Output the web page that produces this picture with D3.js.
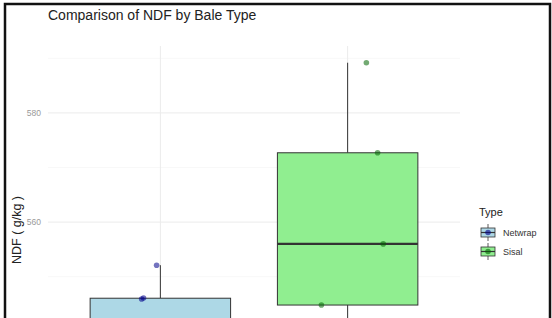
<!DOCTYPE html>
<html>
<head>
<meta charset="utf-8">
<script src="https://cdn.jsdelivr.net/npm/d3@7"></script>
<style>
  body { margin: 0; background: #fff; }
  svg { display: block; font-family: "Liberation Sans", Arial, sans-serif; }
</style>
</head>
<body>
<div id="chart"></div>
<script>
//Datos
const types = ['Netwrap', 'Sisal'];
const netwrapValues = [552.1, 546.1, 545.9, 537.0, 533.5, 527.9];
const sisalValues = [589.2, 572.7, 556.0, 544.8, 533.5];
//desplazamiento horizontal (jitter) de cada punto, en unidades de categoria
const netwrapJitter = [-0.02, -0.09, -0.10, 0.05, -0.12, 0.08];
const sisalJitter = [0.10, 0.16, 0.19, -0.14, 0.04];
const majorTicks = [560, 580];
const minorTicks = [550, 570, 590];

//Colores
const COLOR_FILL = { Netwrap: '#ADD8E6', Sisal: '#90EE90' };
const COLOR_POINT = { Netwrap: '#00008B', Sisal: '#006400' };

const width = 552, height = 318;
const margin = { top: 46, left: 48, right: 92, bottom: 414 };

const svg = d3.select('#chart').append('svg')
    .attr('width', width)
    .attr('height', height);

const groups = [
    { type: 'Netwrap', values: netwrapValues, jitter: netwrapJitter },
    { type: 'Sisal', values: sisalValues, jitter: sisalJitter }
];

//Eje X
let x = d3.scaleBand()
    .domain(types)
    .range([margin.left, width - margin.right])
    .paddingInner(0)
    .paddingOuter(0.1);

//Eje Y (expansion del 5% como ggplot)
let allValues = netwrapValues.concat(sisalValues);
let ext = d3.extent(allValues);
let pad = (ext[1] - ext[0]) * 0.05;
let y = d3.scaleLinear()
    .domain([ext[0] - pad, ext[1] + pad])
    .range([margin.bottom, margin.top]);

const x0 = margin.left, x1 = width - margin.right;

//Rejilla
svg.append('g').selectAll('line')
    .data(minorTicks)
    .enter().append('line')
    .attr('x1', x0).attr('x2', x1)
    .attr('y1', d => y(d)).attr('y2', d => y(d))
    .attr('stroke', '#f3f3f3').attr('stroke-width', 0.6);

svg.append('g').selectAll('line')
    .data(majorTicks)
    .enter().append('line')
    .attr('x1', x0).attr('x2', x1)
    .attr('y1', d => y(d)).attr('y2', d => y(d))
    .attr('stroke', '#ebebeb').attr('stroke-width', 1);

svg.append('g').selectAll('line')
    .data(types)
    .enter().append('line')
    .attr('x1', d => x(d) + x.bandwidth() / 2).attr('x2', d => x(d) + x.bandwidth() / 2)
    .attr('y1', margin.top).attr('y2', margin.bottom)
    .attr('stroke', '#ebebeb').attr('stroke-width', 1);

//Etiquetas eje Y
let yAxis = d3.axisLeft(y).tickValues(majorTicks).tickSize(0).tickPadding(7);
let gy = svg.append('g')
    .attr('transform', 'translate(' + x0 + ',0)')
    .call(yAxis);
gy.select('.domain').remove();
gy.selectAll('text')
    .attr('fill', '#9a9a9a')
    .style('font-size', '8.5px')
    .style('font-family', '"Liberation Sans", Arial, sans-serif');

//Boxplots
groups.forEach(function(g) {
    let sorted = g.values.slice().sort(d3.ascending);
    let q1 = d3.quantile(sorted, 0.25),
        med = d3.quantile(sorted, 0.5),
        q3 = d3.quantile(sorted, 0.75),
        iqr = q3 - q1;
    let hi = d3.max(sorted.filter(v => v <= q3 + 1.5 * iqr));
    let lo = d3.min(sorted.filter(v => v >= q1 - 1.5 * iqr));
    let cx = x(g.type) + x.bandwidth() / 2;
    let bw = x.bandwidth() * 0.75;

    let box = svg.append('g');
    box.append('line')
        .attr('x1', cx).attr('x2', cx)
        .attr('y1', y(hi)).attr('y2', y(q3))
        .attr('stroke', '#333').attr('stroke-width', 1);
    box.append('line')
        .attr('x1', cx).attr('x2', cx)
        .attr('y1', y(q1)).attr('y2', y(lo))
        .attr('stroke', '#333').attr('stroke-width', 1);
    box.append('rect')
        .attr('x', cx - bw / 2)
        .attr('y', y(q3))
        .attr('width', bw)
        .attr('height', y(q1) - y(q3))
        .attr('fill', COLOR_FILL[g.type])
        .attr('stroke', '#333').attr('stroke-width', 1);
    box.append('line')
        .attr('x1', cx - bw / 2).attr('x2', cx + bw / 2)
        .attr('y1', y(med)).attr('y2', y(med))
        .attr('stroke', '#333').attr('stroke-width', 2.2);

    //Puntos con jitter
    svg.append('g').selectAll('circle')
        .data(g.values)
        .enter().append('circle')
        .attr('cx', (d, i) => cx + g.jitter[i] * x.bandwidth())
        .attr('cy', d => y(d))
        .attr('r', 2.8)
        .attr('fill', COLOR_POINT[g.type])
        .attr('fill-opacity', 0.55);
});

//Titulo
svg.append('text')
    .attr('x', 48).attr('y', 20)
    .attr('fill', '#222')
    .style('font-size', '14px')
    .text('Comparison of NDF by Bale Type');

//Titulo eje Y
svg.append('text')
    .attr('transform', 'translate(21,' + ((margin.top + margin.bottom) / 2) + ') rotate(-90)')
    .attr('text-anchor', 'middle')
    .attr('fill', '#222')
    .style('font-size', '12.5px')
    .text('NDF ( g/kg )');

//Leyenda
let legend = svg.append('g').attr('transform', 'translate(479,0)');
legend.append('text')
    .attr('x', 0).attr('y', 216)
    .attr('fill', '#222')
    .style('font-size', '11px')
    .text('Type');

let keys = legend.selectAll('g.key')
    .data(types)
    .enter().append('g')
    .attr('class', 'key')
    .attr('transform', (d, i) => 'translate(0,' + (224 + i * 19) + ')');

keys.append('line')
    .attr('x1', 9).attr('x2', 9)
    .attr('y1', 0).attr('y2', 17)
    .attr('stroke', '#333').attr('stroke-width', 0.8);
keys.append('rect')
    .attr('x', 2).attr('y', 4)
    .attr('width', 14).attr('height', 9)
    .attr('fill', d => COLOR_FILL[d])
    .attr('stroke', '#333').attr('stroke-width', 0.8);
keys.append('line')
    .attr('x1', 2).attr('x2', 16)
    .attr('y1', 8.5).attr('y2', 8.5)
    .attr('stroke', '#333').attr('stroke-width', 1.2);
keys.append('circle')
    .attr('cx', 9).attr('cy', 8.5)
    .attr('r', 2.8)
    .attr('fill', d => COLOR_POINT[d])
    .attr('fill-opacity', 0.6);
keys.append('text')
    .attr('x', 24).attr('y', 12)
    .attr('fill', '#333')
    .style('font-size', '9px')
    .text(d => d);

//Marco
svg.append('rect')
    .attr('x', 5).attr('y', 4)
    .attr('width', 545).attr('height', 400)
    .attr('fill', 'none')
    .attr('stroke', '#111').attr('stroke-width', 2.5);
</script>
</body>
</html>
